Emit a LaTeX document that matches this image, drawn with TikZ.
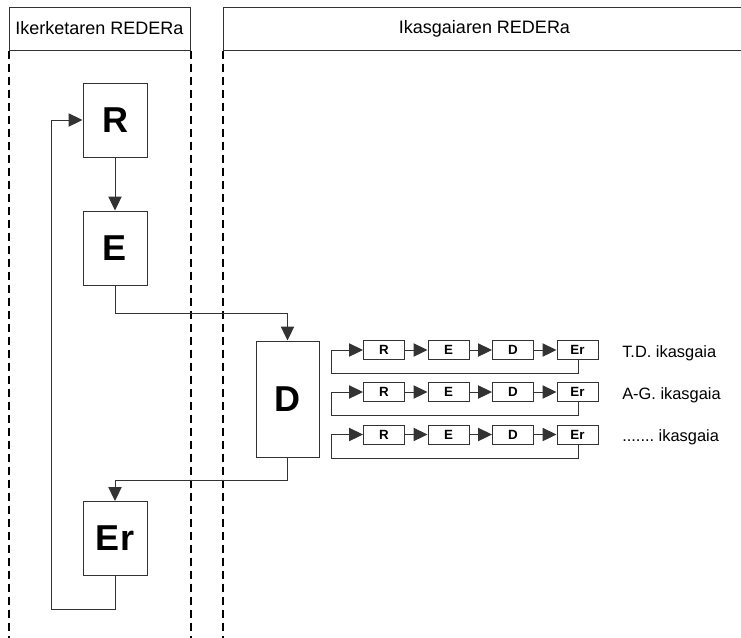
\documentclass[tikz,border=0pt]{standalone}
\usepackage{fontspec}
\setmainfont{Liberation Sans}
\usetikzlibrary{arrows.meta}

\newcommand\rowdots{.......}

\tikzset{
  head/.style={draw=black!80, line width=0.75pt, minimum height=32.25pt,
    inner sep=0pt, font=\fontsize{13.5}{16}\selectfont},
  big/.style={draw=black!80, line width=0.75pt, minimum width=48pt,
    minimum height=55.5pt, inner sep=0pt, font=\fontsize{27}{30}\selectfont\bfseries},
  small/.style={draw=black!80, line width=0.75pt, minimum width=30.75pt,
    minimum height=14.25pt, inner sep=0pt, font=\fontsize{10}{12}\selectfont\bfseries},
  sep/.style={line width=1.5pt, dash pattern=on 6pt off 3.75pt},
  link/.style={draw=black!80, line width=0.75pt},
}

\begin{document}
\begin{tikzpicture}[>={Triangle[length=10.5pt,width=10pt]}, x=0.75pt, y=-0.75pt]
  \clip (0,0) rectangle (741,637);
  \fill[white] (0,0) rectangle (741,637);

  % column headers
  \node[head, minimum width=135.75pt] (hL) at (99.5,28.5) {Ikerketaren REDERa};
  \node[head, minimum width=392.25pt] (hR) at (484.5,28.5) {Ikasgaiaren REDERa};

  \draw[sep] (hL.south west) -- ++(0,600);
  \draw[sep] (hL.south east) -- ++(0,600);
  \draw[sep] (hR.south west) -- ++(0,600);

  % research cycle
  \node[big] (R) at (115,120) {R};
  \node[big] (E) at (115,248) {E};
  \node[big] (Er) at (115,538.5) {Er};
  \node[big, minimum width=47.25pt, minimum height=87pt] (D) at (287.5,399) {D};
  \coordinate (back) at (51,120);

  \draw[link,->] (R.south) -- (E.north);
  \draw[link,->] (E.south) -- ++(0,28) -| (D.north);
  \draw[link,->] (D.south) -- ++(0,23) -| (Er.north);
  \draw[link,->] (Er.south) -- ++(0,33) -| (back) -- (R.west);

  % subject cycles
  \foreach \y/\txt [count=\i] in {350/T.D. ikasgaia, 392/A-G. ikasgaia, 434.5/\rowdots\ ikasgaia} {
    \node[small] (r\i) at (384,\y) {R};
    \node[small] (e\i) at (448.5,\y) {E};
    \node[small] (d\i) at (513,\y) {D};
    \node[small] (er\i) at (577.5,\y) {Er};
    \coordinate (loop\i) at (331,\y);
    \draw[link,->] (r\i.east) -- (e\i.west);
    \draw[link,->] (e\i.east) -- (d\i.west);
    \draw[link,->] (d\i.east) -- (er\i.west);
    \draw[link,->] ([xshift=1pt]er\i.south) -- ++(0,13.5) -| (loop\i) -- (r\i.west);
    \node[anchor=west, inner sep=0pt, font=\fontsize{12.3}{14}\selectfont] (lab\i) at (622,\y+3) {\txt};
  }
\end{tikzpicture}
\end{document}
